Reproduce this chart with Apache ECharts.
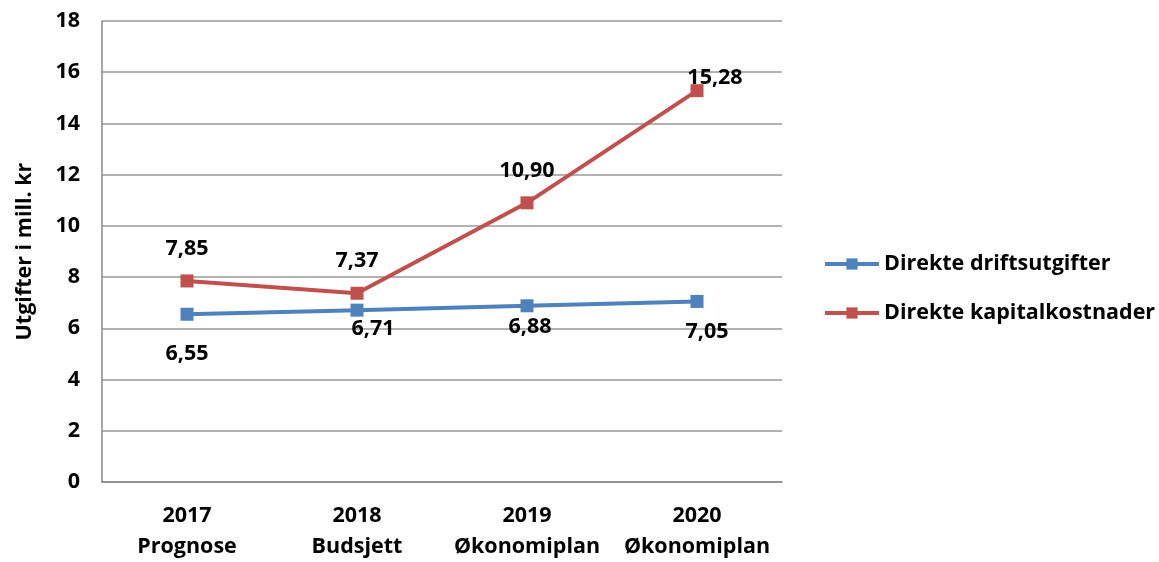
<!DOCTYPE html>
<html><head><meta charset="utf-8">
<script src="https://cdn.jsdelivr.net/npm/echarts@6/dist/echarts.min.js"></script>
<style>html,body{margin:0;padding:0;background:#fff}#c{width:1159px;height:562px}</style>
</head><body><div id="c"></div>
<script>
const categories = ['2017\nPrognose', '2018\nBudsjett', '2019\nØkonomiplan', '2020\nØkonomiplan'];
const driftsutgifter = [6.55, 6.71, 6.88, 7.05];
const kapitalkostnader = [7.85, 7.37, 10.90, 15.28];
const yTicks = [0, 2, 4, 6, 8, 10, 12, 14, 16, 18];

const FONT = 'Open Sans';
const FS = 21.5;
const blueDist = [22, 1, 4, 13];
const redDist = [15, 15, 14, -5];
const blueShift = [0, 16, 3, 10];
const redShift = [0, 0, 0, 18];
const fmt = v => v.toFixed(2).replace('.', ',');
const txt = { fontFamily: FONT, fontWeight: 'bold', fontSize: FS, color: '#000' };

const chart = echarts.init(document.getElementById('c'));
chart.setOption({
  animation: false,
  textStyle: { fontFamily: FONT, fontWeight: 'bold', color: '#000' },
  grid: { left: 102, right: 377, top: 21, bottom: 80 },
  legend: {
    orient: 'vertical', left: 818, top: 248, itemGap: 27,
    itemWidth: 54, itemHeight: 14,
    lineStyle: { width: 4 },
    textStyle: txt,
    data: ['Direkte driftsutgifter', 'Direkte kapitalkostnader']
  },
  xAxis: {
    type: 'category', data: categories, boundaryGap: true,
    axisLine: { lineStyle: { color: '#888', width: 1.5 } },
    axisTick: { show: false },
    axisLabel: Object.assign({ interval: 0, lineHeight: 31, margin: 18 }, txt)
  },
  yAxis: {
    type: 'value', min: yTicks[0], max: yTicks[yTicks.length - 1], interval: 2,
    name: 'Utgifter i mill. kr', nameLocation: 'middle', nameGap: 66, nameRotate: 90,
    nameTextStyle: txt,
    axisLine: { show: true, lineStyle: { color: '#888', width: 1.5 } },
    axisTick: { show: false },
    splitLine: { lineStyle: { color: '#999', width: 1.5 } },
    axisLabel: Object.assign({ margin: 22 }, txt)
  },
  series: [
    {
      name: 'Direkte driftsutgifter', type: 'line',
      data: driftsutgifter.map((v, i) => ({ value: v, label: { distance: blueDist[i], offset: [blueShift[i], 0] } })),
      symbol: 'rect', symbolSize: 13,
      lineStyle: { color: '#4F81BD', width: 4 },
      itemStyle: { color: '#4F81BD' },
      label: Object.assign({ show: true, position: 'bottom', formatter: p => fmt(p.value) }, txt)
    },
    {
      name: 'Direkte kapitalkostnader', type: 'line',
      data: kapitalkostnader.map((v, i) => ({ value: v, label: { distance: redDist[i], offset: [redShift[i], 0] } })),
      symbol: 'rect', symbolSize: 13,
      lineStyle: { color: '#C0504D', width: 4 },
      itemStyle: { color: '#C0504D' },
      label: Object.assign({ show: true, position: 'top', formatter: p => fmt(p.value) }, txt)
    }
  ]
});
</script></body></html>
